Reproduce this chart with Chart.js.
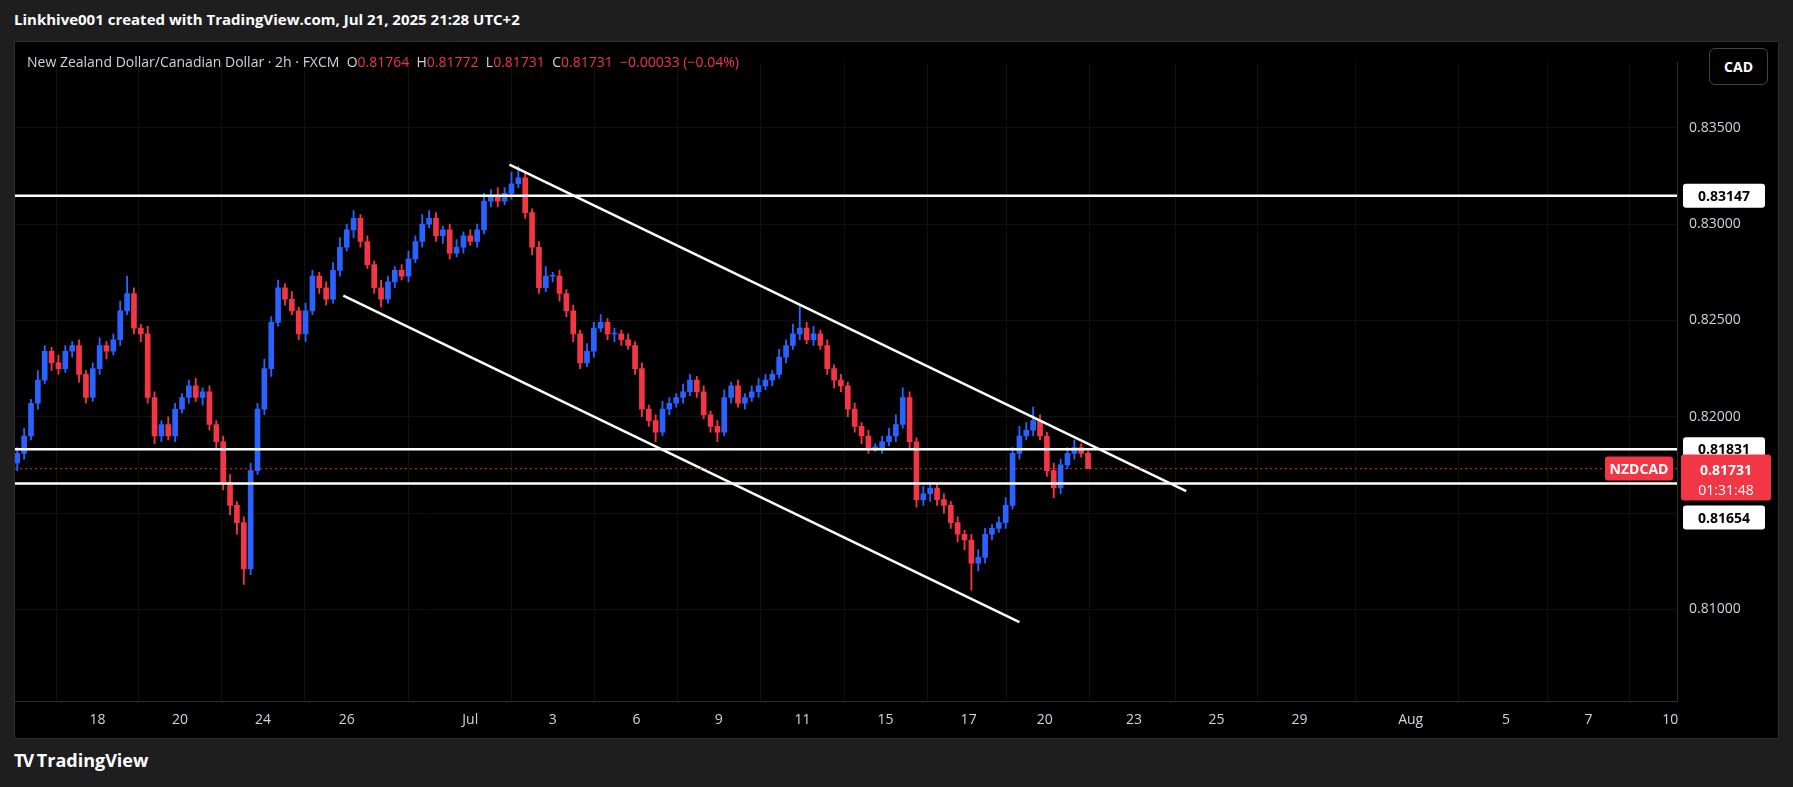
<!DOCTYPE html>
<html><head><meta charset="utf-8">
<script src="https://cdn.jsdelivr.net/npm/chart.js@4.4.1/dist/chart.umd.min.js"></script>
<style>
html,body{margin:0;padding:0;background:#1e1e1e;width:1793px;height:787px;overflow:hidden;font-family:"Open Sans","DejaVu Sans",sans-serif}
#hdr{position:absolute;left:14px;top:9px;color:#fff;font-weight:bold;font-size:15px}
#box{position:absolute;left:14px;top:41px;width:1765px;height:698px;background:#000;border:1px solid #2e2e2e;box-sizing:border-box}
#legend{position:absolute;left:12px;top:10px;color:#d1d4dc;font-size:14px;z-index:2}
#legend .r{color:#f23645}
#cad{position:absolute;right:10px;top:6px;border:1px solid #444;border-radius:6px;color:#fff;font-size:14px;font-weight:bold;padding:8px 14px;z-index:2;background:#000}
#foot{position:absolute;left:14px;top:748px;color:#fff;font-weight:bold;font-size:18px}
canvas{position:absolute;left:0;top:0}
</style></head><body>
<div id="hdr">Linkhive001 created with TradingView.com, Jul 21, 2025 21:28 UTC+2</div>
<div id="box">
<div id="legend">New Zealand Dollar/Canadian Dollar · 2h · FXCM &nbsp;O<span class="r">0.81764</span> &nbsp;H<span class="r">0.81772</span> &nbsp;L<span class="r">0.81731</span> &nbsp;C<span class="r">0.81731</span> &nbsp;<span class="r">−0.00033 (−0.04%)</span></div>
<div id="cad">CAD</div>
<canvas id="c" width="1763" height="696"></canvas>
</div>
<div id="foot"><span style="letter-spacing:-2px">TV</span> TradingView</div>
<script>
const firstOpen = 0.8176;
const closes = [0.8181,0.8190,0.8207,0.8219,0.8234,0.8228,0.8225,0.8234,0.8237,0.8222,
0.8210,0.8225,0.8237,0.8234,0.8240,0.8255,0.8264,0.8246,0.8243,0.8210,
0.8190,0.8196,0.8190,0.8204,0.8210,0.8216,0.8210,0.8213,0.8196,0.8187,
0.8166,0.8154,0.8145,0.8121,0.8172,0.8204,0.8225,0.8249,0.8267,0.8261,
0.8255,0.8243,0.8255,0.8273,0.8267,0.8261,0.8276,0.8288,0.8297,0.8303,
0.8291,0.8279,0.8267,0.8261,0.8270,0.8276,0.8273,0.8282,0.8291,0.8300,
0.8303,0.8294,0.8297,0.8285,0.8288,0.8294,0.8291,0.8297,0.8312,0.8315,
0.8312,0.8316,0.8321,0.8324,0.8306,0.8288,0.8267,0.8273,0.8273,0.8264,
0.8255,0.8243,0.8228,0.8234,0.8246,0.8249,0.8243,0.8243,0.8240,0.8237,
0.8225,0.8204,0.8198,0.8192,0.8204,0.8207,0.8210,0.8213,0.8219,0.8213,
0.8201,0.8195,0.8192,0.8210,0.8216,0.8207,0.8210,0.8213,0.8216,0.8219,
0.8222,0.8231,0.8237,0.8243,0.8246,0.8240,0.8243,0.8237,0.8225,0.8219,
0.8216,0.8204,0.8195,0.8190,0.8184,0.8184,0.8187,0.8190,0.8196,0.8210,
0.8187,0.8157,0.8160,0.8163,0.8157,0.8154,0.8145,0.8139,0.8136,0.8124,
0.8127,0.8139,0.8142,0.8145,0.8154,0.8181,0.8190,0.8193,0.8198,0.8190,
0.8172,0.8163,0.8175,0.8181,0.8184,0.8181,0.81731];
const wickUp = [3,4,2,5,3,2,4,3,2,3, 2,3,4,2,3,5,9,3,2,4, 3,2,4,3,2,3,4,2,3,2, 3,4,2,3,4,3,5,3,4,2,
4,2,4,3,2,3,4,5,3,4, 2,3,2,4,3,2,3,4,3,5, 4,3,2,3,4,2,3,3,4,3, 4,3,6,6,3,2,3,5,2,3,
2,3,2,4,3,4,2,3,2,3, 2,3,2,3,4,3,2,4,3,2, 3,2,3,4,2,3,2,3,4,3, 2,4,3,5,12,3,4,2,3,2,
3,2,3,2,3,2,3,4,5,5, 3,2,4,3,2,3,2,3,2,3, 4,3,2,3,4,3,5,4,7,3, 2,4,3,3,4,2,1];
const wickDn = [4,3,2,3,2,4,3,2,3,4, 3,2,3,4,2,3,2,3,4,3, 4,3,2,3,2,3,2,4,3,3, 4,5,6,8,3,2,3,4,2,3,
2,3,4,2,3,3,2,3,2,4, 3,2,3,4,2,3,2,3,2,3, 2,3,4,3,2,3,2,3,2,3, 3,2,3,2,3,4,3,2,3,4,
3,4,3,2,3,2,3,4,3,2, 3,4,3,5,2,3,2,3,2,3, 2,3,5,2,3,2,3,2,3,2, 3,2,3,2,3,2,3,2,3,4,
3,4,3,4,3,2,3,2,3,2, 3,4,3,4,3,4,3,4,5,14, 4,3,3,2,3,2,3,2,3,2, 3,5,3,2,3,2,0];
const tickSlots = [11.7,23.7,35.8,48,66,78,90.2,102.2,114.4,126.5,138.6,149.7,162.7,174.7,186.8,203,216.9,228.9,240.8];
const tickLabels = ['18','20','24','26','Jul','3','6','9','11','15','17','20','23','25','29','Aug','5','7','10'];
const levels = [0.83147,0.81831,0.81654];
const lastPrice = 0.81731;
const upperTrend = [{x:71.7,y:0.83309},{x:170.3,y:0.81614}];
const lowerTrend = [{x:47.5,y:0.82629},{x:146,y:0.80934}];
const yTicks = [0.810,0.815,0.820,0.825,0.830,0.835];

const UP='#2962ff', DN='#f23645';
const bodies=[], wicks=[], bc=[];
closes.forEach((c,i)=>{
  const o = i===0?firstOpen:closes[i-1];
  const hi = Math.max(o,c)+wickUp[i]*0.0001, lo=Math.min(o,c)-wickDn[i]*0.0001;
  let a=o,b=c; if(Math.abs(a-b)<0.00004){b=a+(c>=o?0.00004:-0.00004);}
  bodies.push({x:i,y:[a,b]}); wicks.push({x:i,y:[lo,hi]}); bc.push(c>=o?UP:DN);
});
const X0=-0.33, X1=241.8;
const line=(d,w,col,dash)=>({type:'line',data:d,borderColor:col,borderWidth:w,borderDash:dash||[],pointRadius:0,order:0,parsing:true});
const full=v=>[{x:X0,y:v},{x:X1,y:v}];

const labelPlugin={id:'lbl',afterDraw(ch){
  const c=ch.ctx,y=ch.scales.y,a=ch.chartArea;
  c.save(); c.font='bold 14px "Open Sans",sans-serif'; c.textBaseline='middle'; c.textAlign='center';
  const box=(txt,yy,bg,fg,x,w,h)=>{c.fillStyle=bg;c.beginPath();c.roundRect(x,yy-h/2,w,h,3);c.fill();c.fillStyle=fg;c.fillText(txt,x+w/2,yy+1);};
  const bx=a.right+6, bw=82;
  box('0.83147',y.getPixelForValue(levels[0]),'#fff','#000',bx,bw,24);
  box('0.81831',y.getPixelForValue(levels[1]),'#fff','#000',bx,bw,24);
  const py=y.getPixelForValue(lastPrice);
  c.fillStyle=DN; c.beginPath(); c.roundRect(bx-2,py-14,bw+8,46,3); c.fill();
  c.fillStyle='#fff'; c.fillText('0.81731',bx+bw/2+2,py+2); c.font='14px "Open Sans",sans-serif'; c.fillText('01:31:48',bx+bw/2+2,py+22);
  c.font='bold 14px "Open Sans",sans-serif';
  box('NZDCAD',py,DN,'#fff',a.right-72,68,24);
  box('0.81654',py+49,'#fff','#000',bx,bw,24);
  c.restore();
}};

new Chart(document.getElementById('c'),{
  type:'bar',
  data:{datasets:[
    {data:wicks,backgroundColor:bc,barThickness:1.2,grouped:false,order:2},
    {data:bodies,backgroundColor:bc,barThickness:5,grouped:false,order:1},
    line(full(levels[0]),2.5,'#fff'),
    line(full(levels[1]),2.5,'#fff'),
    line(full(levels[2]),2.5,'#fff'),
    line(full(lastPrice),1.2,'rgba(242,54,69,0.7)',[2,3]),
    line(upperTrend,2.5,'#fff'),
    line(lowerTrend,2.5,'#fff')
  ]},
  plugins:[labelPlugin],
  options:{responsive:false,animation:false,
    layout:{padding:{top:0,left:0,right:0,bottom:0}},
    plugins:{legend:{display:false},tooltip:{enabled:false}},
    scales:{
      x:{type:'linear',min:X0,max:X1,offset:false,
        afterBuildTicks:s=>{s.ticks=tickSlots.map(v=>({value:v}));},
        ticks:{autoSkip:false,maxRotation:0,color:'#d1d4dc',font:{size:14,family:'"Open Sans",sans-serif'},padding:10,
          callback:(v,i)=>tickLabels[i]},
        grid:{color:'#111',drawTicks:false},border:{color:'#2e2e2e'}},
      y:{position:'right',min:0.80523,max:0.8384,afterFit:s=>{s.width=101;},
        afterBuildTicks:s=>{s.ticks=yTicks.map(v=>({value:v}));},
        ticks:{color:'#d1d4dc',font:{size:14,family:'"Open Sans",sans-serif'},padding:12,
          callback:v=>Math.abs(v-0.815)<1e-6?'':v.toFixed(5)},
        grid:{color:'#111',drawTicks:false},border:{color:'#2e2e2e'}}
    }}
});
</script></body></html>
